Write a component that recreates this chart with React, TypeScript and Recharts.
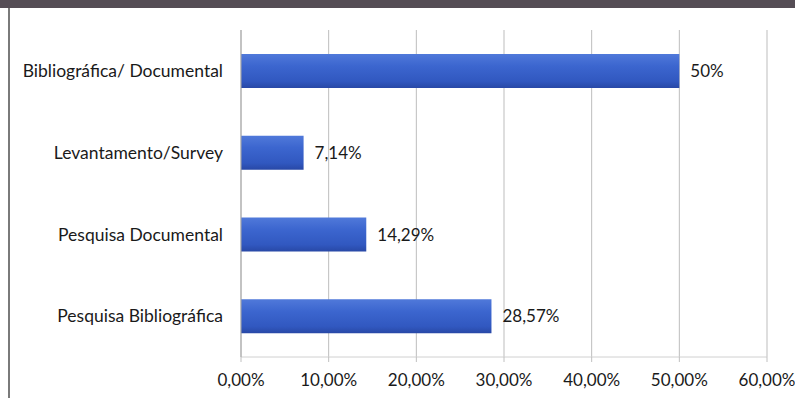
import { BarChart, Bar, XAxis, YAxis, CartesianGrid, LabelList } from "recharts";

const categories = [
  "Bibliográfica/ Documental",
  "Levantamento/Survey",
  "Pesquisa Documental",
  "Pesquisa Bibliográfica",
];
const values = [50, 7.14, 14.29, 28.57];
const valueLabels = ["50%", "7,14%", "14,29%", "28,57%"];
const xTicks = [0, 10, 20, 30, 40, 50, 60];

const chartData = categories.map((name, i) => ({
  name,
  value: values[i],
  label: valueLabels[i],
}));

const fmtPct = (v: number) => `${v.toFixed(2).replace(".", ",")}%`;

export default function App() {
  return (
    <div style={{ position: "absolute", left: 0, top: 0, width: 795, height: 398, background: "#fff", overflow: "hidden", fontFamily: "Lato, sans-serif" }}>
      <div style={{ position: "absolute", left: 0, top: 0, width: 795, height: 8, background: "#554d55" }} />
      <div style={{ position: "absolute", left: 8, top: 8, width: 2, height: 390, background: "#7a7a7a" }} />
      <div style={{ position: "absolute", left: 0, top: 0 }}>
        <BarChart
          width={795}
          height={398}
          data={chartData}
          layout="vertical"
          margin={{ top: 30, right: 28, left: 0, bottom: 11 }}
          barSize={34}
        >
          <defs>
            <linearGradient id="barFill" x1="0" y1="0" x2="0" y2="1">
              <stop offset="0%" stopColor="#5079da" />
              <stop offset="35%" stopColor="#3c66cf" />
              <stop offset="80%" stopColor="#3158c0" />
              <stop offset="100%" stopColor="#2848a6" />
            </linearGradient>
          </defs>
          <CartesianGrid stroke="#bdbdbd" horizontal={false} />
          <XAxis
            type="number"
            domain={[0, 60]}
            ticks={xTicks}
            tickFormatter={fmtPct}
            height={30}
            axisLine={{ stroke: "#d0d0d0" }}
            tickLine={{ stroke: "#c0c0c0" }}
            tickSize={5}
            tickMargin={12}
            tick={{ fill: "#1a1a1a", fontSize: 17 }}
            interval={0}
          />
          <YAxis
            type="category"
            dataKey="name"
            width={241}
            axisLine={{ stroke: "#a8a8a8" }}
            tickLine={false}
            tickSize={0}
            tickMargin={18}
            tick={{ fill: "#1a1a1a", fontSize: 17.5 }}
          />
          <Bar dataKey="value" fill="url(#barFill)" isAnimationActive={false}>
            <LabelList dataKey="label" position="right" offset={11} fill="#1a1a1a" fontSize={17} />
          </Bar>
        </BarChart>
      </div>
    </div>
  );
}
